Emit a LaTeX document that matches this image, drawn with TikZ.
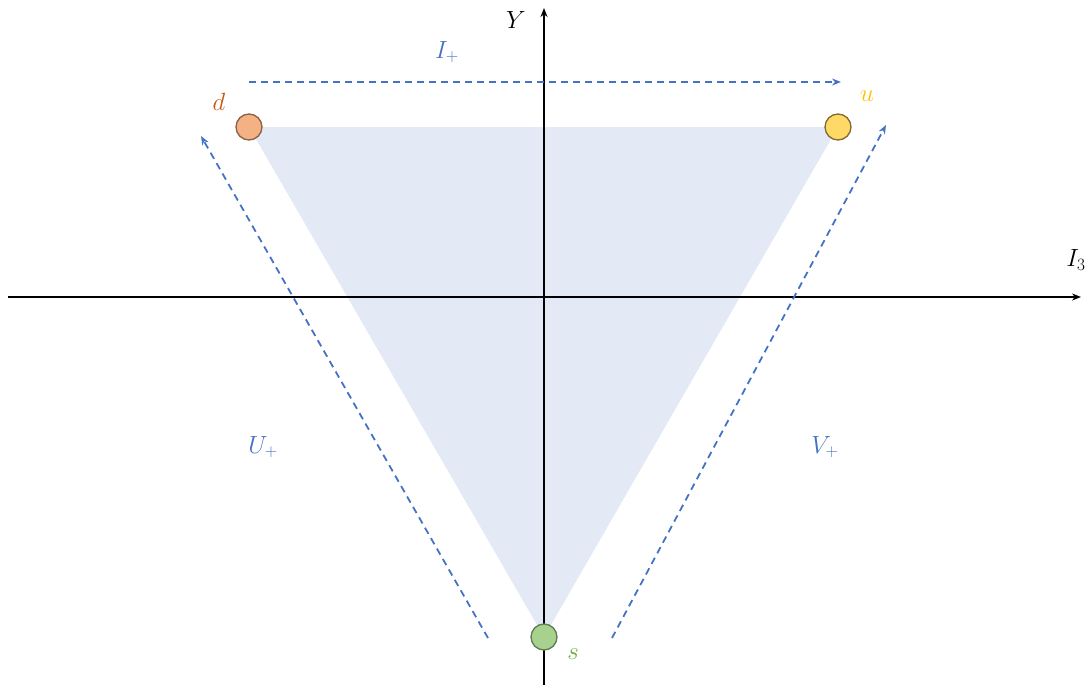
\documentclass[tikz,border=0pt]{standalone}
\usetikzlibrary{arrows.meta}
\definecolor{fillblue}{HTML}{E3EAF5}
\definecolor{arrblue}{HTML}{4472C4}
\definecolor{dfill}{HTML}{F4B183}
\definecolor{dtext}{HTML}{C55A11}
\definecolor{dborder}{HTML}{8A6048}
\definecolor{ufill}{HTML}{FFD966}
\definecolor{utext}{HTML}{FFC000}
\definecolor{uborder}{HTML}{7F6A30}
\definecolor{sfill}{HTML}{A9D18E}
\definecolor{stext}{HTML}{70AD47}
\definecolor{sborder}{HTML}{5E7A50}
\tikzset{
  axis/.style={line width=1.9pt,-{Stealth[length=9pt,width=7pt]}},
  opdash/.style={arrblue,line width=1.8pt,dash pattern=on 7pt off 5pt,-{Stealth[length=9pt,width=7pt]}},
  quark/.style={circle,line width=1.3pt,minimum size=26pt,inner sep=0pt},
  lbl/.style={font=\fontsize{25}{30}\selectfont,inner sep=0pt},
}
\begin{document}
\begin{tikzpicture}[x=1pt,y=-1pt]
\useasboundingbox (0,0) rectangle (1092,685);
% coordinates
\coordinate (D) at (249,127);
\coordinate (U) at (838,127);
\coordinate (S) at (544,637);
% triangle
\fill[fillblue] (D) -- (U) -- (S) -- cycle;
% axes
\coordinate (ybot) at (544,685);
\coordinate (ytop) at (544,8);
\coordinate (xl) at (8,297);
\coordinate (xr) at (1081,297);
\draw[axis] (ybot) -- (ytop);
\draw[axis] (xl) -- (xr);
\node[lbl] (Ylab) at (516,20) {$Y$};
\node[lbl] (I3lab) at (1076,260) {$I_3$};
% quarks
\node[quark,draw=dborder,fill=dfill] (d) at (D) {};
\node[quark,draw=uborder,fill=ufill] (u) at (U) {};
\node[quark,draw=sborder,fill=sfill] (s) at (S) {};
\node[lbl,text=dtext] (dlab) at (219,102) {$d$};
\node[lbl,text=utext] (ulab) at (867,96) {$u$};
\node[lbl,text=stext] (slab) at (573,654) {$s$};
% operators
\coordinate (ia) at (249,82);
\coordinate (ib) at (841,82);
\draw[opdash] (ia) -- (ib);
\node[lbl,text=arrblue] (Iplab) at (447,52) {$I_+$};
\coordinate (ua) at (488,638);
\coordinate (ub) at (201,136);
\draw[opdash] (ua) -- (ub);
\node[lbl,text=arrblue] (Uplab) at (263,447) {$U_+$};
\coordinate (va) at (612,638);
\coordinate (vb) at (886,125);
\draw[opdash] (va) -- (vb);
\node[lbl,text=arrblue] (Vplab) at (825,447) {$V_+$};
\end{tikzpicture}
\end{document}
